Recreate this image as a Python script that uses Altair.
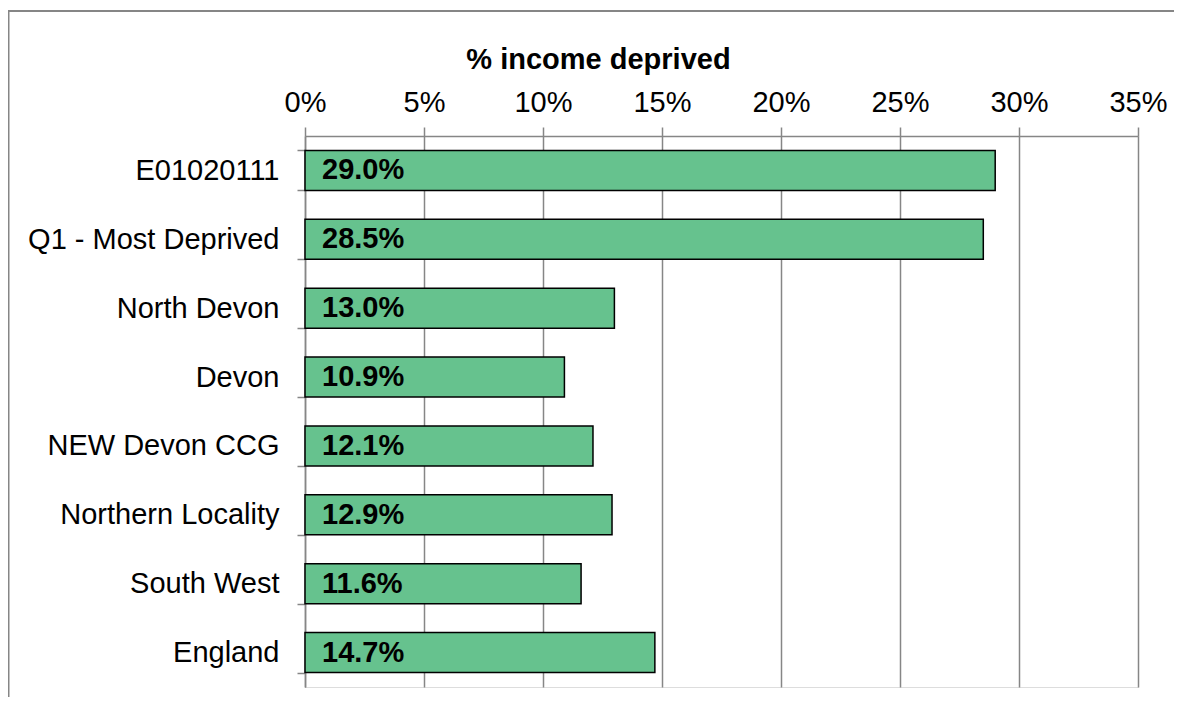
import altair as alt
import pandas as pd

categories = ["E01020111", "Q1 - Most Deprived", "North Devon", "Devon",
              "NEW Devon CCG", "Northern Locality", "South West", "England"]
values = [29.0, 28.5, 13.0, 10.9, 12.1, 12.9, 11.6, 14.7]
x_ticks = [0, 5, 10, 15, 20, 25, 30, 35]

df = pd.DataFrame({"area": categories, "pct": values})

W, H = 833, 551
GRAY = "#868686"
FONT = "Liberation Sans"

xenc = alt.X("pct:Q",
             scale=alt.Scale(domain=[0, 35], nice=False),
             axis=alt.Axis(orient="top", values=x_ticks,
                           labelExpr="datum.value + '%'",
                           title="% income deprived",
                           titleFontSize=29, titleFontWeight="bold", titleFont=FONT,
                           titleColor="black", titleX=293, titleY=-68,
                           titleAlign="center", titleBaseline="alphabetic",
                           labelFontSize=29, labelFont=FONT, labelColor="black",
                           labelFlush=False, labelOverlap=False,
                           labelPadding=10, tickSize=9, tickColor=GRAY, tickWidth=1.5,
                           domainColor=GRAY, domainWidth=1.5,
                           grid=True, gridColor=GRAY, gridWidth=1.5))
yenc = alt.Y("area:N", sort=categories,
             scale=alt.Scale(paddingInner=0.42, paddingOuter=0.21),
             axis=alt.Axis(title=None, labelFontSize=29, labelFont=FONT,
                           labelColor="black", labelPadding=18, labelLimit=0,
                           tickSize=8, tickColor=GRAY, tickWidth=1.5, tickBand="extent",
                           domainColor=GRAY, domainWidth=1.5, grid=False))

base = alt.Chart(df)

bars = base.mark_bar(fill="#66C28E", stroke="black", strokeWidth=1.5).encode(x=xenc, y=yenc)

labels = base.mark_text(align="left", baseline="middle", dx=17, fontSize=29,
                        fontWeight="bold", font=FONT, color="black").encode(
    x=alt.datum(0), y=alt.Y("area:N", sort=categories),
    text=alt.Text("label:N")).transform_calculate(
    label="format(datum.pct, '.1f') + '%'")

border = alt.Chart(pd.DataFrame({"a": [0]})).mark_rect(
    fill=None, stroke=GRAY, strokeWidth=2).encode(
    x=alt.value(-296.5), x2=alt.value(W + 120),
    y=alt.value(-125), y2=alt.value(H + 120))

chart = alt.layer(border, bars, labels).properties(
    width=W, height=H,
    autosize=alt.AutoSizeParams(type="none"),
    padding={"left": 297, "top": 128, "right": 36, "bottom": 10},
).configure_view(stroke=None).configure(background="white")

chart.save("out.html", embed_options={"renderer": "svg", "actions": False})
